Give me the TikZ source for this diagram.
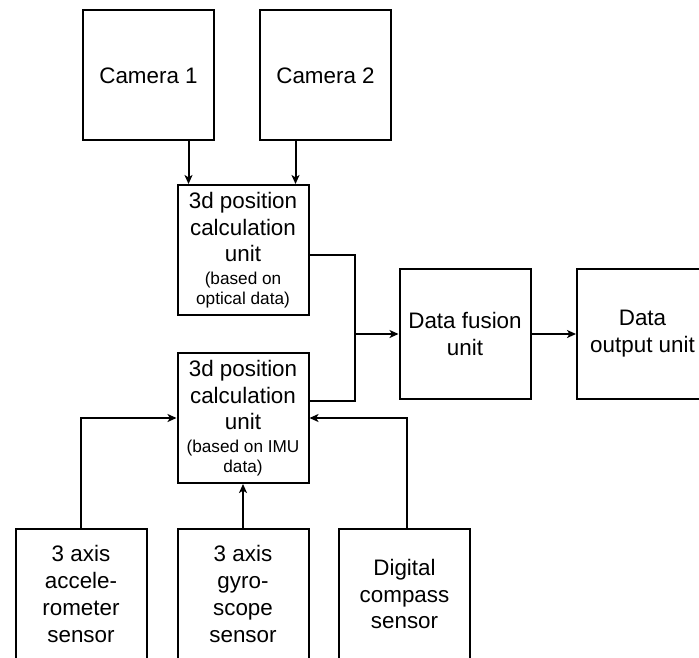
\documentclass[tikz,border=0pt]{standalone}
\usepackage{fontspec}
\setmainfont{Liberation Sans}
\usetikzlibrary{arrows.meta}
\newcommand{\bigtxt}{\fontsize{11.2}{13.4}\selectfont}
\newcommand{\smalltxt}{\fontsize{8.6}{10.4}\selectfont}

\begin{document}
\begin{tikzpicture}[x=0.5pt, y=-0.5pt,
    unitbox/.style={draw, line width=1pt, minimum width=65.5pt, minimum height=65pt,
      inner sep=1pt, align=center, font=\bigtxt},
    wire/.style={line width=1pt},
    arr/.style={line width=1pt, -{Stealth[length=4.5pt,width=4pt,inset=1.2pt]}}]
    \useasboundingbox (0,0) rectangle (699,657);
    % cameras
    \node[unitbox] (cam1) at (148.5,75.5) {Camera 1};
    \node[unitbox] (cam2) at (325.5,75.5) {Camera 2};
    % the two position units
    \node[unitbox] (opt) at (243,250) {3d position\\calculation\\unit\\[-2pt]\smalltxt (based on\\[-3.5pt]\smalltxt optical data)};
    \node[unitbox] (imu) at (243,418) {3d position\\calculation\\unit\\[-2pt]\smalltxt (based on IMU\\[-3.5pt]\smalltxt data)};
    % fusion and output
    \node[unitbox] (fusion) at (465,334) {Data fusion\\unit};
    \node[unitbox] (output) at (642.5,334) {Data\\output unit};
    % sensors
    \node[unitbox] (accel) at (81,594) {3 axis\\accele-\\rometer\\sensor};
    \node[unitbox] (gyro) at (243,594) {3 axis\\gyro-\\scope\\sensor};
    \node[unitbox] (compass) at (404.5,594) {Digital\\compass\\sensor};
    \coordinate (join) at (355,334);

    \draw[arr] ([xshift=20pt]cam1.south) -- ([xshift=20pt]cam1.south |- opt.north);
    \draw[arr] ([xshift=-15pt]cam2.south) -- ([xshift=-15pt]cam2.south |- opt.north);
    \draw[wire] ([yshift=-2.5pt]opt.east) -| (join) |- ([yshift=8.5pt]imu.east);
    \draw[arr] (join) -- (fusion.west);
    \draw[arr] (fusion.east) -- (output.west);
    \draw[arr] (accel.north) |- (imu.west);
    \draw[arr] (gyro.north) -- (imu.south);
    \draw[arr] ([xshift=1.25pt]compass.north) |- (imu.east);
\end{tikzpicture}
\end{document}
